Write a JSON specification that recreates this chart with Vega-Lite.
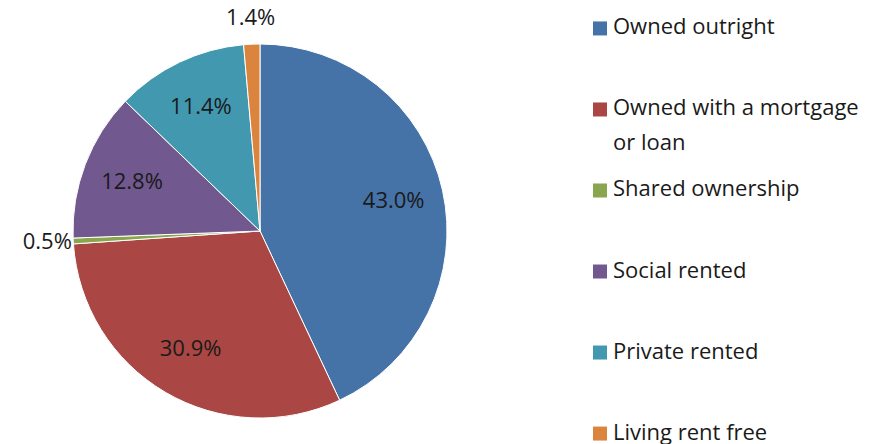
{
  "$schema": "https://vega.github.io/schema/vega-lite/v6.json",
  "padding": {"left": 0, "top": 7, "right": 0, "bottom": 0},
  "background": "white",
  "config": {"view": {"stroke": null}},
  "datasets": {
    "housing": [
      {"tenure": "Owned outright", "pct": 0.430, "order": 1},
      {"tenure": "Owned with a mortgage or loan", "pct": 0.309, "order": 2},
      {"tenure": "Shared ownership", "pct": 0.005, "order": 3},
      {"tenure": "Social rented", "pct": 0.128, "order": 4},
      {"tenure": "Private rented", "pct": 0.114, "order": 5},
      {"tenure": "Living rent free", "pct": 0.014, "order": 6}
    ]
  },
  "spacing": 73,
  "hconcat": [
    {
      "width": 520,
      "height": 444,
      "data": {"name": "housing"},
      "encoding": {
        "theta": {"field": "pct", "type": "quantitative", "stack": true},
        "order": {"field": "order", "type": "quantitative"},
        "color": {
          "field": "tenure",
          "type": "nominal",
          "scale": {
            "domain": ["Owned outright", "Owned with a mortgage or loan", "Shared ownership", "Social rented", "Private rented", "Living rent free"],
            "range": ["#4572A7", "#AA4643", "#89A54E", "#71588F", "#4198AF", "#DB843D"]
          },
          "legend": null
        }
      },
      "layer": [
        {"mark": {"type": "arc", "outerRadius": 187, "stroke": "white", "strokeWidth": 1}},
        {
          "mark": {"type": "text", "radius": 137, "fontSize": 22, "font": "Open Sans"},
          "encoding": {
            "color": {"value": "#1a1a1a"},
            "text": {"condition": {"test": "datum.pct >= 0.02", "field": "pct", "type": "quantitative", "format": ".1%"}, "value": ""}
          }
        },
        {
          "mark": {"type": "text", "radius": 213, "fontSize": 22, "font": "Open Sans"},
          "encoding": {
            "color": {"value": "#1a1a1a"},
            "text": {"condition": {"test": "datum.pct < 0.02", "field": "pct", "type": "quantitative", "format": ".1%"}, "value": ""}
          }
        }
      ]
    },
    {
      "width": 14,
      "height": 444,
      "data": {"name": "housing"},
      "transform": [{"calculate": "replace(datum.tenure, ' or loan', '\\nor loan')", "as": "legendText"}],
      "encoding": {
        "y": {"field": "tenure", "type": "nominal", "sort": {"field": "order"}, "scale": {"type": "point", "padding": 0.24}, "axis": null}
      },
      "layer": [
        {
          "mark": {"type": "point", "shape": "square", "filled": true, "size": 196, "opacity": 1},
          "encoding": {"color": {"field": "tenure", "type": "nominal", "legend": null}}
        },
        {
          "mark": {"type": "text", "align": "left", "baseline": "top", "dx": 13, "dy": -11, "fontSize": 22, "font": "Open Sans", "color": "#1a1a1a", "lineBreak": "\n", "lineHeight": 35},
          "encoding": {"text": {"field": "legendText"}}
        }
      ]
    }
  ]
}
